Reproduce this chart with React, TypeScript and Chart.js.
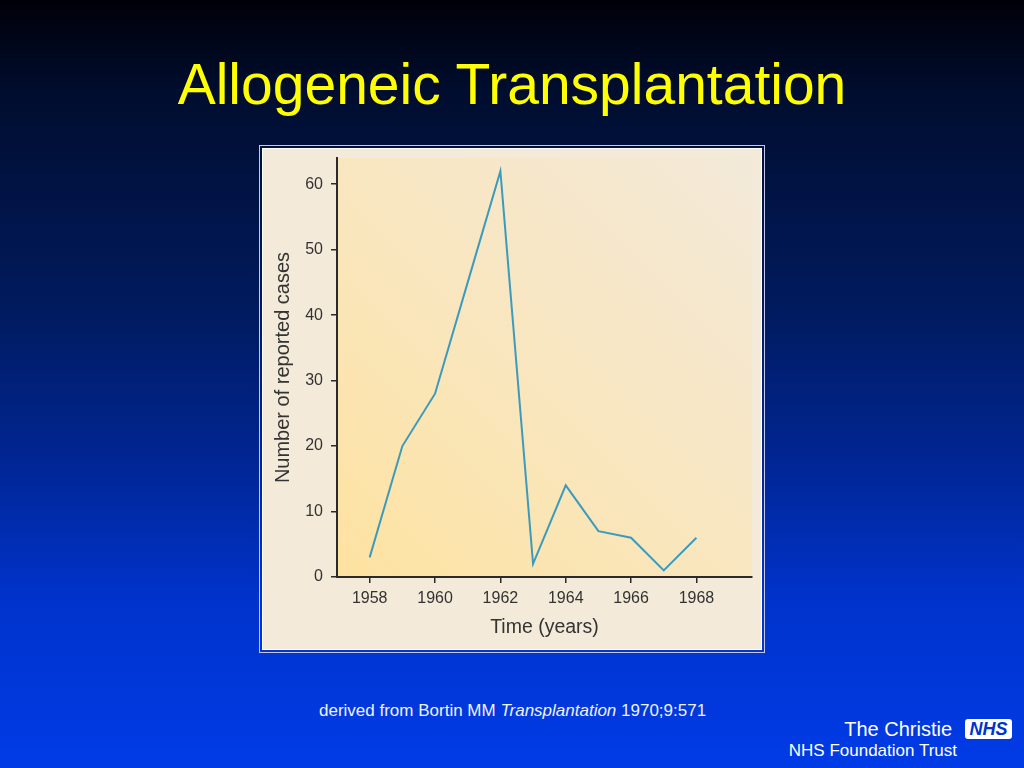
import React, { useEffect, useRef } from "react";
import { Chart, registerables } from "chart.js";

Chart.register(...registerables);

const years = [1958, 1959, 1960, 1961, 1962, 1963, 1964, 1965, 1966, 1967, 1968];
const reportedCases = [3, 20, 28, 45, 62, 2, 14, 7, 6, 1, 6];
const xTickYears = [1958, 1960, 1962, 1964, 1966, 1968];
const yTickValues = [0, 10, 20, 30, 40, 50, 60];

const FONT = "'Liberation Sans', Arial, Helvetica, sans-serif";

const plotBackground = {
  id: "plotBackground",
  beforeDraw(chart: any) {
    const { ctx, chartArea } = chart;
    if (!chartArea) return;
    const { left, top, right, bottom } = chartArea;
    const g = ctx.createLinearGradient(left, bottom, right, top);
    g.addColorStop(0, "#fde2a0");
    g.addColorStop(0.45, "#f9e6bd");
    g.addColorStop(1, "#f3e9d9");
    ctx.save();
    ctx.fillStyle = g;
    ctx.fillRect(left, top, right - left, bottom - top);
    ctx.restore();
  },
};

function CasesChart() {
  const ref = useRef<HTMLCanvasElement | null>(null);
  useEffect(() => {
    if (!ref.current) return;
    const chart = new Chart(ref.current, {
      type: "line",
      data: {
        datasets: [
          {
            data: years.map((y, i) => ({ x: y, y: reportedCases[i] })),
            borderColor: "#3b9bbd",
            borderWidth: 2,
            pointRadius: 0,
            tension: 0,
            fill: false,
          },
        ],
      },
      options: {
        animation: false,
        responsive: false,
        maintainAspectRatio: false,
        layout: { padding: { top: 9, right: 9, left: 0, bottom: 0 } },
        plugins: { legend: { display: false }, tooltip: { enabled: false } },
        scales: {
          x: {
            type: "linear",
            min: 1957,
            max: 1969.7,
            afterBuildTicks: (scale: any) => {
              scale.ticks = xTickYears.map((v) => ({ value: v }));
            },
            afterFit: (scale: any) => {
              scale.height = 72;
              scale.paddingLeft = 0;
              scale.paddingRight = 0;
            },
            border: { display: true, color: "#2a2a2a", width: 2 },
            grid: { display: true, drawOnChartArea: false, drawTicks: true, tickLength: 6, color: "#2a2a2a", lineWidth: 1.5 },
            ticks: {
              color: "#333",
              font: { family: FONT, size: 16 },
              padding: 6,
              maxRotation: 0,
              autoSkip: false,
              callback: (v: any) => String(v),
            },
            title: {
              display: true,
              text: "Time (years)",
              color: "#333",
              font: { family: FONT, size: 19.5 },
              padding: { top: 4, bottom: 10 },
            },
          },
          y: {
            type: "linear",
            min: 0,
            max: 64,
            afterBuildTicks: (scale: any) => {
              scale.ticks = yTickValues.map((v) => ({ value: v }));
            },
            afterFit: (scale: any) => {
              scale.width = 74;
              scale.paddingTop = 0;
              scale.paddingBottom = 0;
            },
            border: { display: true, color: "#2a2a2a", width: 2 },
            grid: { display: true, drawOnChartArea: false, drawTicks: true, tickLength: 6, color: "#2a2a2a", lineWidth: 1.5 },
            ticks: {
              color: "#333",
              font: { family: FONT, size: 16 },
              padding: 8,
              autoSkip: false,
              callback: (v: any) => String(v),
            },
            title: {
              display: true,
              text: "Number of reported cases",
              color: "#333",
              font: { family: FONT, size: 20 },
              padding: { top: 8, bottom: 0 },
            },
          },
        },
      },
      plugins: [plotBackground],
    });
    return () => chart.destroy();
  }, []);
  return <canvas ref={ref} width={498} height={500} style={{ display: "block", width: 498, height: 500 }} />;
}

export default function App() {
  return (
    <div
      style={{
        position: "absolute",
        left: 0,
        top: 0,
        width: 1024,
        height: 768,
        overflow: "hidden",
        fontFamily: FONT,
        background:
          "linear-gradient(to bottom, #000008 0px, #000d2e 90px, #001a5c 300px, #002590 450px, #0033cc 600px, #003be6 768px)",
      }}
    >
      <div
        style={{
          position: "absolute",
          left: 0,
          top: 52,
          width: 1024,
          textAlign: "center",
          color: "#ffff00",
          fontSize: 57,
          lineHeight: "64px",
        }}
      >
        Allogeneic Transplantation
      </div>
      <div
        style={{
          position: "absolute",
          left: 259,
          top: 145,
          width: 506,
          height: 508,
          boxSizing: "border-box",
          border: "1px solid #c3c9ec",
          padding: 2,
        }}
      >
        <div
          style={{
            width: "100%",
            height: "100%",
            boxSizing: "border-box",
            border: "1px solid #ffffff",
            background: "#f3ead9",
          }}
        >
          <CasesChart />
        </div>
      </div>
      <div
        style={{
          position: "absolute",
          left: 319,
          top: 700,
          color: "#eef2ff",
          fontSize: 17,
          lineHeight: "22px",
          whiteSpace: "nowrap",
        }}
      >
        derived from Bortin MM <i>Transplantation</i> 1970;9:571
      </div>
      <div
        style={{
          position: "absolute",
          right: 72,
          top: 717,
          color: "#ffffff",
          fontSize: 20,
          lineHeight: "24px",
          whiteSpace: "nowrap",
        }}
      >
        The Christie
      </div>
      <div
        style={{
          position: "absolute",
          left: 965,
          top: 719,
          width: 47,
          height: 20,
          background: "#ffffff",
          borderRadius: 3,
          color: "#0033cc",
          fontWeight: "bold",
          fontStyle: "italic",
          fontSize: 18,
          lineHeight: "20px",
          textAlign: "center",
        }}
      >
        NHS
      </div>
      <div
        style={{
          position: "absolute",
          right: 67,
          top: 740,
          color: "#ffffff",
          fontSize: 17,
          lineHeight: "22px",
          whiteSpace: "nowrap",
        }}
      >
        NHS Foundation Trust
      </div>
    </div>
  );
}
